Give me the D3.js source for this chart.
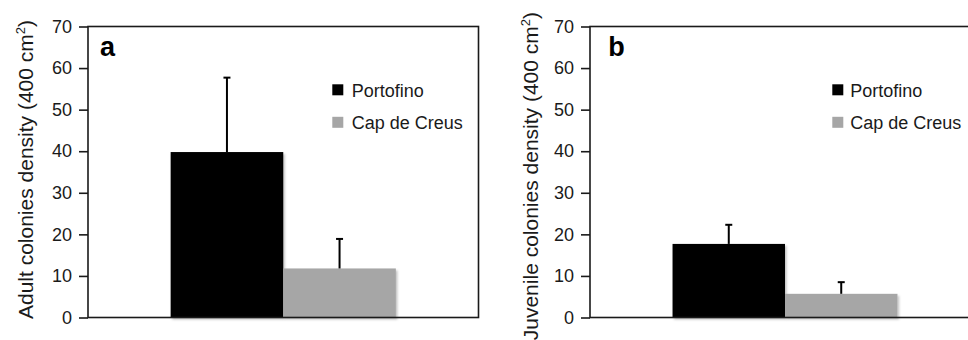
<!DOCTYPE html>
<html>
<head>
<meta charset="utf-8">
<script src="https://cdn.jsdelivr.net/npm/d3@7"></script>
<style>
  body { margin: 0; background: #fff; }
  svg { display: block; font-family: "Liberation Sans", Arial, Helvetica, sans-serif; }
</style>
</head>
<body>
<div id="chart"></div>
<script>
// data
const sites = ["Portofino", "Cap de Creus"];
const siteColors = ["#000000", "#a6a6a6"];
const yTicks = [0, 10, 20, 30, 40, 50, 60, 70];

const adultMean = [39.8, 11.8];
const adultSE = [17.9, 7.1];
const juvenileMean = [17.7, 5.7];
const juvenileSE = [4.6, 2.8];

const panels = [
    { tag: "a", title: "Adult colonies density (400 cm", mean: adultMean, se: adultSE,
      left: 88, right: 478.5, titleX: 32.5, titleEnd: 20, tagX: 100, legX: 332.3, legTextX: 351.7 },
    { tag: "b", title: "Juvenile colonies density (400 cm", mean: juvenileMean, se: juvenileSE,
      left: 590, right: 980, titleX: 537.5, titleEnd: 12, tagX: 608.3, legX: 832.3, legTextX: 850.3 }
];

const width = 968, height = 340;
const plotTop = 26.5, plotBottom = 317.5;

const svg = d3.select("#chart").append("svg")
    .attr("width", width)
    .attr("height", height);

const defs = svg.append("defs");
defs.append("filter")
    .attr("id", "shadow")
    .attr("x", "-10%").attr("y", "-10%")
    .attr("width", "130%").attr("height", "130%")
    .append("feDropShadow")
    .attr("dx", 1.5).attr("dy", 2)
    .attr("stdDeviation", 1.3)
    .attr("flood-color", "#000")
    .attr("flood-opacity", 0.25);

const y = d3.scaleLinear().domain([0, 70]).range([plotBottom, plotTop]);

function drawPanel(p) {
    const g = svg.append("g");

    // one group of bars per panel, split by site
    const x0 = d3.scaleBand().domain(["all"]).range([p.left, p.right])
        .paddingInner(0).paddingOuter(0.367);
    const x1 = d3.scaleBand().domain(sites).range([0, x0.bandwidth()]);

    const rows = sites.map((s, i) => ({ site: s, mean: p.mean[i], se: p.se[i], color: siteColors[i] }));

    g.append("g")
        .selectAll("rect")
        .data(rows)
        .join("rect")
        .attr("x", d => x0("all") + x1(d.site))
        .attr("y", d => y(d.mean))
        .attr("width", x1.bandwidth())
        .attr("height", d => y(0) - y(d.mean))
        .attr("fill", d => d.color)
        .attr("filter", "url(#shadow)");

    // error bars, upper half only
    const err = g.append("g")
        .attr("stroke", "#000")
        .attr("stroke-width", 2)
        .selectAll("g")
        .data(rows)
        .join("g");

    err.append("line")
        .attr("x1", d => x0("all") + x1(d.site) + x1.bandwidth() / 2)
        .attr("x2", d => x0("all") + x1(d.site) + x1.bandwidth() / 2)
        .attr("y1", d => y(d.mean))
        .attr("y2", d => y(d.mean + d.se));

    err.append("line")
        .attr("x1", d => x0("all") + x1(d.site) + x1.bandwidth() / 2 - 3.5)
        .attr("x2", d => x0("all") + x1(d.site) + x1.bandwidth() / 2 + 3.5)
        .attr("y1", d => y(d.mean + d.se))
        .attr("y2", d => y(d.mean + d.se));

    // frame
    g.append("rect")
        .attr("x", p.left)
        .attr("y", plotTop)
        .attr("width", p.right - p.left)
        .attr("height", plotBottom - plotTop)
        .attr("fill", "none")
        .attr("stroke", "#1a1a1a")
        .attr("stroke-width", 1.6);

    const axis = g.append("g")
        .attr("transform", "translate(" + p.left + ",0)")
        .call(d3.axisLeft(y).tickValues(yTicks).tickSize(9).tickPadding(7));
    axis.select(".domain").remove();
    axis.selectAll(".tick line").attr("stroke", "#1a1a1a").attr("stroke-width", 1.6);
    axis.selectAll(".tick text")
        .attr("fill", "#1a1a1a")
        .style("font-size", "18px")
        .style("font-family", "'Liberation Sans', Arial, sans-serif");

    // y title
    const t = g.append("text")
        .attr("transform", "translate(" + p.titleX + "," + p.titleEnd + ") rotate(-90)")
        .attr("text-anchor", "end")
        .attr("fill", "#1a1a1a")
        .style("font-size", "21px");
    t.append("tspan").text(p.title);
    t.append("tspan").text("2").style("font-size", "13px").attr("dy", -8);
    t.append("tspan").text(")").attr("dy", 8);

    // panel letter
    g.append("text")
        .attr("x", p.tagX)
        .attr("y", 55.5)
        .attr("fill", "#000")
        .style("font-size", "27px")
        .style("font-weight", "bold")
        .text(p.tag);

    // legend
    const leg = g.append("g")
        .selectAll("g")
        .data(rows)
        .join("g")
        .attr("transform", (d, i) => "translate(0," + i * 32.5 + ")");
    leg.append("rect")
        .attr("x", p.legX)
        .attr("y", 84.3)
        .attr("width", 11)
        .attr("height", 11)
        .attr("fill", d => d.color);
    leg.append("text")
        .attr("x", p.legTextX)
        .attr("y", 96.8)
        .attr("fill", "#1a1a1a")
        .style("font-size", "18px")
        .text(d => d.site);
}

panels.forEach(drawPanel);
</script>
</body>
</html>
